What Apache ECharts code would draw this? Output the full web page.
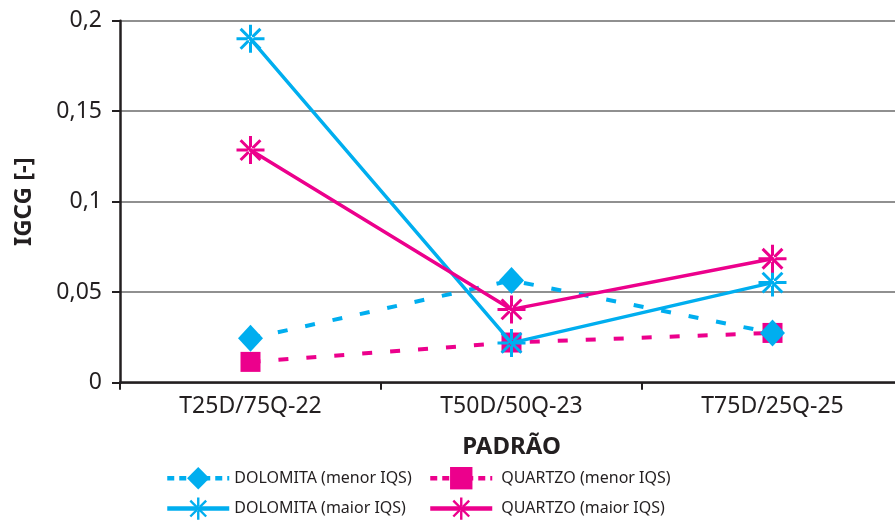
<!DOCTYPE html>
<html>
<head>
<meta charset="utf-8">
<script src="https://cdn.jsdelivr.net/npm/echarts@6/dist/echarts.min.js"></script>
<style>
html,body{margin:0;padding:0;background:#fff;}
#chart{width:895px;height:526px;}
</style>
</head>
<body>
<div id="chart"></div>
<script>
const categories = ['T25D/75Q-22', 'T50D/50Q-23', 'T75D/25Q-25'];
const dolomitaMenor = [0.0245, 0.0565, 0.0275];
const quartzoMenor = [0.0115, 0.0222, 0.0275];
const dolomitaMaior = [0.19, 0.022, 0.0553];
const quartzoMaior = [0.1285, 0.0405, 0.0685];
const yTicks = [0, 0.05, 0.1, 0.15, 0.2];
const seriesNames = ['DOLOMITA (menor IQS)', 'QUARTZO (menor IQS)', 'DOLOMITA (maior IQS)', 'QUARTZO (maior IQS)'];

const CYAN = '#00AEEF';
const MAGENTA = '#EC008C';
const TEXT = '#231f20';
const FONT = '"Noto Sans", sans-serif';

const asterisk = 'path://M12.5 0h3v28h-3Z M0 12.5h28v3h-28Z ' +
  'M3.04 5.16L5.16 3.04L24.96 22.84L22.84 24.96Z ' +
  'M24.96 5.16L22.84 3.04L3.04 22.84L5.16 24.96Z';

const chart = echarts.init(document.getElementById('chart'), null, {renderer: 'canvas'});

const legendCommon = {
  orient: 'vertical',
  top: 462,
  height: 70,
  itemWidth: 62,
  itemHeight: 28,
  itemGap: 8,
  textStyle: {fontFamily: FONT, fontSize: 16, color: TEXT},
  selectedMode: false
};
const dashedLegend = {width: 4.5, type: [7, 5]};
const solidLegend = {width: 4.5, type: 'solid'};

chart.setOption({
  backgroundColor: '#fff',
  animation: false,
  grid: {left: 120, right: -8, top: 20.7, bottom: 143.3, containLabel: false, outerBoundsMode: 'none'},
  legend: [
    Object.assign({}, legendCommon, {left: 160, data: [
      {name: seriesNames[0], lineStyle: dashedLegend},
      {name: seriesNames[2], lineStyle: solidLegend}
    ]}),
    Object.assign({}, legendCommon, {left: 423, data: [
      {name: seriesNames[1], lineStyle: dashedLegend},
      {name: seriesNames[3], lineStyle: solidLegend}
    ], textStyle: {fontFamily: FONT, fontSize: 16, color: TEXT, padding: [0, 0, 0, 4]}})
  ],
  xAxis: {
    type: 'category',
    data: categories,
    boundaryGap: true,
    name: 'PADRÃO',
    nameLocation: 'middle',
    nameGap: 52,
    nameTextStyle: {fontFamily: FONT, fontSize: 24, fontWeight: 'bold', color: TEXT},
    axisLine: {lineStyle: {color: TEXT, width: 2.5}},
    axisTick: {show: true, length: 7, lineStyle: {color: TEXT, width: 2}},
    axisLabel: {fontFamily: FONT, fontSize: 23, color: TEXT, margin: 12},
    splitLine: {show: false}
  },
  yAxis: {
    type: 'value',
    min: yTicks[0],
    max: yTicks[yTicks.length - 1],
    interval: 0.05,
    name: 'IGCG [-]',
    nameLocation: 'middle',
    nameGap: 84,
    nameRotate: 90,
    nameTextStyle: {fontFamily: FONT, fontSize: 24, fontWeight: 'bold', color: TEXT},
    axisLine: {show: true, lineStyle: {color: TEXT, width: 2.5}},
    axisTick: {show: true, length: 8, lineStyle: {color: TEXT, width: 2}},
    axisLabel: {fontFamily: FONT, fontSize: 23, color: TEXT, margin: 18,
      formatter: v => String(v).replace('.', ',')},
    splitLine: {show: true, lineStyle: {color: '#6b6b6b', width: 1.5}}
  },
  series: [
    {
      name: seriesNames[1], type: 'line', data: quartzoMenor,
      symbol: 'rect', symbolSize: 20, color: MAGENTA,
      lineStyle: {color: MAGENTA, width: 4, type: [10, 18]},
      itemStyle: {color: MAGENTA}, z: 2
    },
    {
      name: seriesNames[0], type: 'line', data: dolomitaMenor,
      symbol: 'diamond', symbolSize: [25, 27], color: CYAN,
      lineStyle: {color: CYAN, width: 4, type: [10, 18]},
      itemStyle: {color: CYAN}, z: 3
    },
    {
      name: seriesNames[2], type: 'line', data: dolomitaMaior,
      symbol: asterisk, symbolSize: 28, color: CYAN,
      lineStyle: {color: CYAN, width: 3.5},
      itemStyle: {color: CYAN}, z: 4
    },
    {
      name: seriesNames[3], type: 'line', data: quartzoMaior,
      symbol: asterisk, symbolSize: 28, color: MAGENTA,
      lineStyle: {color: MAGENTA, width: 3.5},
      itemStyle: {color: MAGENTA}, z: 5
    }
  ]
});
</script>
</body>
</html>
